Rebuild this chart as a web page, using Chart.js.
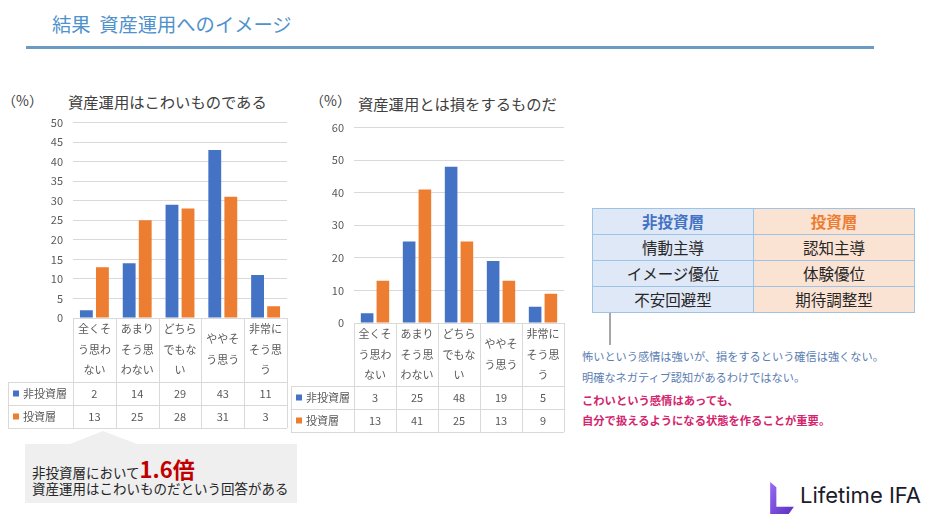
<!DOCTYPE html>
<html>
<head>
<meta charset="utf-8">
<script src="https://cdn.jsdelivr.net/npm/chart.js@4"></script>
<style>
  body { margin:0; width:940px; height:529px; background:#fff; overflow:hidden; position:relative;
         font-family:"Noto Sans CJK JP", sans-serif; }
  .abs { position:absolute; white-space:nowrap; }
  #head { left:52px; top:10px; font-size:19.3px; color:#4f92cc; }
  #rule { left:26px; top:46px; width:848px; height:3px; background:#6b9ac4; }
  .pct { font-size:14px; color:#404040; }
  .ctitle { font-size:15.3px; color:#404040; }
  #wrap1 { left:0; top:106px; width:295px; height:328px; }
  #wrap2 { left:288px; top:111px; width:280px; height:327px; }
  #kind { left:592px; top:208px; border-collapse:collapse; font-size:15.5px; color:#262626; }
  #kind td { border:1px solid #9dc3e6; width:160px; height:25px; text-align:center; padding:0; line-height:25px; }
  #kind td.l { background:#dfe8f6; }
  #kind td.r { background:#fbe3d4; }
  #kind tr.h td { font-weight:bold; font-size:15.5px; }
  #stem { left:609px; top:313px; width:2px; height:32px; background:#a6a6a6; }
  .note { left:582px; font-size:11.2px; color:#5a7db3; }
  .pink { left:582px; font-size:11.3px; color:#d3246d; font-weight:bold; }
  #box { left:25px; top:444px; width:272px; height:59px; background:#efefef; }
  #tri { left:70px; top:431px; width:0; height:0; border-left:33px solid transparent;
         border-right:34px solid transparent; border-bottom:13px solid #efefef; }
  .call { left:32px; font-size:13.5px; color:#262626; }
  .big { color:#c00000; font-weight:bold; font-size:22px; }
  #logoL { left:768px; top:482px; width:26px; height:32px; }
  #logoT { left:800px; top:482px; font-family:Inter, sans-serif; font-size:22px; color:#1b1b2b; }
</style>
</head>
<body>
<div class="abs" id="head">結果&nbsp;&nbsp;資産運用へのイメージ</div>
<div class="abs" id="rule"></div>

<div class="abs pct" style="left:2px;top:90px;">（%）</div>
<div class="abs ctitle" style="left:68px;top:90px;">資産運用はこわいものである</div>
<div class="abs pct" style="left:310px;top:90px;">（%）</div>
<div class="abs ctitle" style="left:358px;top:92px;">資産運用とは損をするものだ</div>

<div class="abs" id="wrap1"><canvas id="fearChart"></canvas></div>
<div class="abs" id="wrap2"><canvas id="lossChart"></canvas></div>

<table class="abs" id="kind">
  <tr class="h"><td class="l" style="color:#4472c4">非投資層</td><td class="r" style="color:#ed7d31">投資層</td></tr>
  <tr><td class="l">情動主導</td><td class="r">認知主導</td></tr>
  <tr><td class="l">イメージ優位</td><td class="r">体験優位</td></tr>
  <tr><td class="l">不安回避型</td><td class="r">期待調整型</td></tr>
</table>
<div class="abs" id="stem"></div>
<div class="abs note" style="top:348px;">怖いという感情は強いが、損をするという確信は強くない。</div>
<div class="abs note" style="top:369px;">明確なネガティブ認知があるわけではない。</div>
<div class="abs pink" style="top:392px;">こわいという感情はあっても、</div>
<div class="abs pink" style="top:412px;">自分で扱えるようになる状態を作ることが重要。</div>

<div class="abs" id="tri"></div>
<div class="abs" id="box"></div>
<div class="abs call" style="top:452px;">非投資層において<span class="big">1.6倍</span></div>
<div class="abs call" style="top:478px;">資産運用はこわいものだという回答がある</div>

<svg class="abs" id="logoL" viewBox="0 0 25 31">
  <defs><linearGradient id="lg" x1="0" y1="0" x2="1" y2="1">
    <stop offset="0" stop-color="#9a6cf5"/><stop offset="1" stop-color="#5a2fc0"/></linearGradient></defs>
  <polygon points="2,0 8,5 8,24 25,24 20,31 2,31" fill="url(#lg)"/>
</svg>
<div class="abs" id="logoT">Lifetime IFA</div>

<script>
// categories (answers), split in lines like the original
const categories = [
  ["全くそ", "う思わ", "ない"],
  ["あまり", "そう思", "わない"],
  ["どちら", "でもな", "い"],
  ["ややそ", "う思う"],
  ["非常に", "そう思", "う"]
]
const seriesNames = ["非投資層", "投資層"]
const seriesColors = ["#4472c4", "#ed7d31"]

// 資産運用はこわいものである
const fearNonInvestor = [2, 14, 29, 43, 11]
const fearInvestor = [13, 25, 28, 31, 3]
// 資産運用とは損をするものだ
const lossNonInvestor = [3, 25, 48, 19, 5]
const lossInvestor = [13, 41, 25, 13, 9]

Chart.defaults.font.family = '"Noto Sans CJK JP", sans-serif'
Chart.defaults.color = '#595959'

// draws the data table under the x axis (like excel)
const dataTablePlugin = {
  id: 'dataTable',
  afterDraw(chart, args, opts) {
    const ctx = chart.ctx
    const xs = chart.scales.x
    const area = chart.chartArea
    const top = xs.bottom
    const rowH = opts.rowH
    const left = opts.left
    const n = chart.data.labels.length
    ctx.save()
    ctx.strokeStyle = '#d9d9d9'
    ctx.lineWidth = 1
    ctx.beginPath()
    for (let i = 0; i <= n; i++) {
      const px = Math.round(xs.getPixelForValue(i - 0.5)) + 0.5
      ctx.moveTo(px, area.bottom)
      ctx.lineTo(px, top + rowH * 2)
    }
    ctx.moveTo(left + 0.5, top)
    ctx.lineTo(left + 0.5, top + rowH * 2)
    for (let r = 0; r <= 2; r++) {
      const py = Math.round(top + rowH * r) + 0.5
      ctx.moveTo(left, py)
      ctx.lineTo(area.right, py)
    }
    ctx.stroke()

    ctx.font = '11px "Noto Sans CJK JP", sans-serif'
    ctx.textBaseline = 'middle'
    chart.data.datasets.forEach((ds, r) => {
      const cy = top + rowH * r + rowH / 2
      ctx.fillStyle = ds.backgroundColor
      ctx.fillRect(left + 5, cy - 3, 6, 6)
      ctx.fillStyle = '#595959'
      ctx.textAlign = 'left'
      ctx.fillText(ds.label, left + 15, cy)
      ctx.textAlign = 'center'
      ds.data.forEach((v, i) => {
        ctx.fillText(String(v), xs.getPixelForValue(i), cy)
      })
    })
    ctx.restore()
  }
}

function make_chart(id, dataA, dataB, yMax, yStep, pad, tableLeft) {
  const ctx = document.getElementById(id).getContext('2d')
  return new Chart(ctx, {
    type: 'bar',
    data: {
      labels: categories,
      datasets: [
        { label: seriesNames[0], data: dataA, backgroundColor: seriesColors[0] },
        { label: seriesNames[1], data: dataB, backgroundColor: seriesColors[1] }
      ]
    },
    options: {
      responsive: true,
      maintainAspectRatio: false,
      animation: false,
      categoryPercentage: 0.75,
      barPercentage: 0.8,
      layout: { padding: pad },
      plugins: {
        legend: { display: false },
        tooltip: { enabled: false },
        dataTable: { rowH: 23, left: tableLeft }
      },
      scales: {
        x: {
          grid: { display: false },
          border: { display: false },
          ticks: {
            font: { size: 11, lineHeight: 1.85 },
            color: '#595959',
            padding: 3,
            crossAlign: 'center',
            maxRotation: 0,
            autoSkip: false
          },
          afterFit: s => { s.height = pad.xh }
        },
        y: {
          min: 0,
          max: yMax,
          grid: { color: '#d9d9d9', drawTicks: false },
          border: { display: false },
          ticks: { stepSize: yStep, font: { size: 11 }, color: '#595959', padding: 10 },
          afterFit: s => { s.width = 40 }
        }
      }
    },
    plugins: [dataTablePlugin]
  })
}

make_chart('fearChart', fearNonInvestor, fearInvestor, 50, 5,
  { left: 33, right: 8, top: 4, bottom: 52, xh: 64 }, 8)
make_chart('lossChart', lossNonInvestor, lossInvestor, 60, 10,
  { left: 26, right: 4, top: 3, bottom: 52, xh: 63 }, 3)
</script>
</body>
</html>
